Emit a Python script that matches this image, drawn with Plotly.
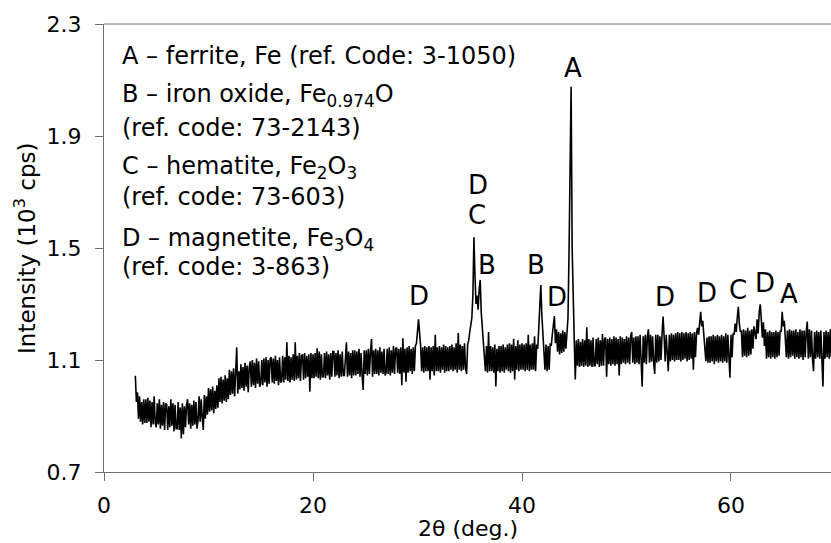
import numpy as np
import plotly.graph_objects as go

# XRD scan, intensity in cps, sampled every 0.1 deg of 2-theta starting at 3.0 deg
two_theta_start = 3.0
two_theta_step = 0.1

counts_03_09 = [
    1044, 950, 985, 890, 970, 880, 950, 870, 960, 875,
    960, 875, 965, 880, 955, 860, 950, 870, 970, 875,
    860, 945, 870, 960, 855, 940, 865, 950, 850, 945,
    940, 850, 935, 860, 960, 865, 945, 845, 940, 855,
    855, 950, 850, 930, 820, 945, 835, 935, 860, 940,
    960, 870, 945, 855, 940, 865, 955, 870, 950, 855,
    885, 970, 880, 960, 895, 850, 975, 890, 970, 905,
]
counts_10_19 = [
    1000, 915, 995, 920, 1005, 910, 990, 925, 1010, 930,
    1035, 950, 1040, 945, 1030, 955, 1045, 950, 1035, 960,
    1065, 975, 1060, 980, 1070, 970, 1055, 1145, 980, 1060,
    995, 1085, 1000, 1075, 990, 1090, 1005, 1080, 985, 1075,
    1095, 1005, 1100, 1010, 1090, 1000, 1105, 1015, 1095, 1005,
    1015, 1100, 1010, 1105, 1020, 1110, 1005, 1100, 1015, 1105,
    1110, 1020, 1105, 1015, 1115, 1025, 1100, 1010, 1110, 1020,
    1025, 1115, 1020, 1110, 1030, 1163, 1025, 1115, 1020, 1110,
    1030, 1120, 1025, 1163, 1030, 1115, 1035, 1125, 1025, 1115,
    1120, 1030, 1125, 1035, 1115, 1040, 1120, 987, 1125, 1035,
]
counts_20_29 = [
    1120, 1035, 1125, 1040, 1142, 1035, 1130, 1030, 1120, 1040,
    1040, 1125, 1035, 1130, 1045, 1120, 1030, 1125, 1040, 1130,
    1130, 1040, 1125, 1045, 1135, 1035, 1120, 1040, 1130, 1045,
    1045, 1130, 1163, 1040, 1130, 1045, 1125, 1035, 1135, 1045,
    1135, 1045, 1130, 1050, 1140, 1040, 1125, 1045, 993, 1135,
    1050, 1135, 1045, 1140, 1050, 1130, 1175, 1040, 1135, 1050,
    1140, 1050, 1135, 1045, 1145, 1055, 1130, 1050, 1140, 1045,
    1055, 1140, 1050, 1145, 1045, 1135, 1055, 1150, 1050, 1140,
    1145, 1055, 1140, 1050, 1145, 1010, 1178, 1055, 1140, 1022,
    1145, 1055, 1150, 1060, 1140, 1050, 1145, 1060, 1150, 1160,
]
counts_30_39 = [
    1200, 1245, 1195, 1150, 1060, 1145, 1055, 1150, 1060, 1145,
    1060, 1150, 1030, 1145, 1060, 1150, 1045, 1190, 1060, 1145,
    1060, 1150, 1055, 1145, 1065, 1155, 1055, 1150, 1060, 1145,
    1060, 1150, 1065, 1155, 1060, 1145, 1065, 1160, 1055, 1196,
    1065, 1155, 1060, 1150, 1065, 1160, 1070, 1050, 1155, 1170,
    1200, 1220, 1250, 1330, 1538, 1400, 1300, 1330, 1280, 1350,
    1386, 1270, 1220, 1150, 1120, 1060, 1150, 1055, 1200, 1060,
    1150, 1060, 1145, 1055, 1155, 1005, 1140, 1060, 1150, 1055,
    1150, 1060, 1155, 1055, 1145, 1065, 1155, 1060, 1160, 1055,
    1155, 1060, 1176, 1030, 1150, 1065, 1170, 1060, 1155, 1065,
]
counts_40_49 = [
    1160, 1065, 1155, 1060, 1160, 1065, 1190, 1060, 1155, 1065,
    1160, 1065, 1185, 1060, 1155, 1140, 1210, 1290, 1368, 1260,
    1200, 1150, 1065, 1155, 1060, 1150, 1065, 1160, 1150, 1190,
    1230, 1257, 1160, 1210, 1130, 1200, 1120, 1195, 1125, 1205,
    1130, 1200, 1140, 1210, 1250, 1480, 1800, 2076, 1500, 1250,
    1170, 1030, 1170, 1080, 1175, 1075, 1165, 1080, 1175, 1075,
    1170, 1080, 1217, 1075, 1175, 1080, 1170, 1075, 1180, 1080,
    1080, 1175, 1085, 1180, 1075, 1170, 1080, 1193, 1080, 1175,
    1180, 1040, 1175, 1085, 1180, 1080, 1175, 1085, 1185, 1080,
    1180, 1085, 1175, 1045, 1185, 1085, 1180, 1090, 1175, 1085,
]
counts_50_59 = [
    1185, 1090, 1180, 1085, 1185, 1200, 1090, 1180, 1085, 1185,
    1090, 1185, 1085, 1190, 1090, 1005, 1185, 1090, 1190, 1085,
    1185, 1210, 1090, 1190, 1095, 1185, 1090, 1050, 1190, 1090,
    1190, 1095, 1185, 1100, 1190, 1255, 1185, 1095, 1190, 1100,
    1060, 1190, 1095, 1195, 1100, 1190, 1095, 1195, 1100, 1200,
    1100, 1195, 1095, 1200, 1100, 1195, 1105, 1200, 1095, 1195,
    1100, 1200, 1105, 1195, 1065, 1200, 1110, 1195, 1215, 1190,
    1240, 1272, 1220, 1240, 1190, 1150, 1095, 1180, 1090, 1185,
    1090, 1185, 1095, 1190, 1085, 1185, 1095, 1190, 1090, 1185,
    1095, 1190, 1090, 1185, 1095, 1195, 1090, 1190, 1100, 1037,
]
counts_60_69 = [
    1190, 1110, 1195, 1190, 1230, 1200, 1250, 1290, 1230, 1200,
    1205, 1110, 1210, 1115, 1205, 1110, 1215, 1115, 1205, 1120,
    1210, 1140, 1220, 1200, 1175, 1245, 1195, 1270, 1299, 1245,
    1180, 1235, 1150, 1210, 1105, 1200, 1110, 1205, 1105, 1200,
    1110, 1200, 1105, 1205, 1110, 1200, 1115, 1205, 1200, 1272,
    1220, 1240, 1170, 1110, 1205, 1105, 1210, 1110, 1205, 1115,
    1205, 1105, 1210, 1110, 1200, 1105, 1210, 1110, 1205, 1100,
    1205, 1110, 1200, 1237, 1105, 1210, 1110, 1205, 1105, 1060,
    1200, 1105, 1205, 1110, 1200, 1105, 1205, 1110, 1005, 1200,
    1105, 1205, 1110, 1200, 1105, 1210, 1110, 1200,
]

# phase identification key
phase_lines = [
    "A \u2013 ferrite, Fe (ref. Code: 3-1050)",
    "B \u2013 iron oxide, Fe<sub>0.974</sub>O",
    "(ref. code: 73-2143)",
    "C \u2013 hematite, Fe<sub>2</sub>O<sub>3</sub>",
    "(ref. code: 73-603)",
    "D \u2013 magnetite, Fe<sub>3</sub>O<sub>4</sub>",
    "(ref. code: 3-863)",
]

# peak markers: letter, 2-theta, intensity (10^3 cps) of the letter
peak_letters = ["A", "D", "C", "B", "D", "B", "D", "D", "D", "C", "D", "A"]
peak_label_x = [44.88, 35.79, 35.69, 36.65, 30.19, 41.34, 43.35, 53.68, 57.70, 60.67, 63.25, 65.55]
peak_label_y = [2.143, 1.725, 1.618, 1.439, 1.329, 1.439, 1.325, 1.325, 1.339, 1.350, 1.375, 1.336]

y_ticks = [0.7, 1.1, 1.5, 1.9, 2.3]
x_ticks = [0, 20, 40, 60]

counts = np.array(counts_03_09 + counts_10_19 + counts_20_29 + counts_30_39
                  + counts_40_49 + counts_50_59 + counts_60_69, dtype=float)
two_theta = np.round(two_theta_start + two_theta_step * np.arange(len(counts)), 2)
intensity = counts / 1000.0

FONT = "DejaVu Sans"
AXIS_COLOR = "#707070"

fig = go.Figure()
fig.add_trace(go.Scatter(
    x=two_theta, y=intensity, mode="lines",
    line=dict(color="black", width=1.6),
    hoverinfo="skip", showlegend=False,
))

annotations = []
line_y = [0.9286, 0.8393, 0.7679, 0.6808, 0.6138, 0.5179, 0.4576]
for text, yy in zip(phase_lines, line_y):
    annotations.append(dict(
        text=text, x=0.022, y=yy, xref="paper", yref="paper",
        xanchor="left", yanchor="middle", showarrow=False,
        font=dict(family=FONT, size=24, color="black"),
    ))

for letter, px, py in zip(peak_letters, peak_label_x, peak_label_y):
    annotations.append(dict(
        text=letter, x=px, y=py, xref="x", yref="y",
        xanchor="center", yanchor="middle", showarrow=False,
        font=dict(family=FONT, size=26, color="black"),
    ))

annotations.append(dict(
    text="2\u03b8 (deg.)", x=0.5, y=-71 / 448, xref="paper", yref="paper",
    xanchor="center", yanchor="bottom", showarrow=False,
    font=dict(family=FONT, size=22, color="black"),
))
annotations.append(dict(
    text="Intensity (10<sup>3</sup> cps)", x=-0.1087, y=0.5,
    xref="paper", yref="paper", xanchor="center", yanchor="middle",
    textangle=-90, showarrow=False,
    font=dict(family=FONT, size=23, color="black"),
))

fig.update_layout(
    width=831, height=543,
    margin=dict(l=104, r=0, t=24, b=71, pad=0),
    paper_bgcolor="white", plot_bgcolor="white",
    annotations=annotations,
    font=dict(family=FONT, size=22, color="black"),
)
fig.update_xaxes(
    range=[0, 69.57], tickvals=x_ticks, ticks="outside", ticklen=8,
    tickcolor=AXIS_COLOR, showline=True, linecolor=AXIS_COLOR, linewidth=1,
    mirror=False, showgrid=False, zeroline=False,
    tickfont=dict(family=FONT, size=22, color="black"),
    ticklabelstandoff=6,
)
fig.update_yaxes(
    range=[0.7, 2.3], tickvals=y_ticks, tickformat=".1f", ticks="outside",
    ticklen=8, tickcolor=AXIS_COLOR, showline=True, linecolor=AXIS_COLOR,
    linewidth=1, mirror=False, showgrid=False, zeroline=False,
    tickfont=dict(family=FONT, size=22, color="black"),
    ticklabelstandoff=9,
)
# top frame line
fig.add_shape(type="line", xref="paper", yref="paper", x0=0, x1=1, y0=1, y1=1,
              line=dict(color=AXIS_COLOR, width=1))

fig.write_html("out.html")
